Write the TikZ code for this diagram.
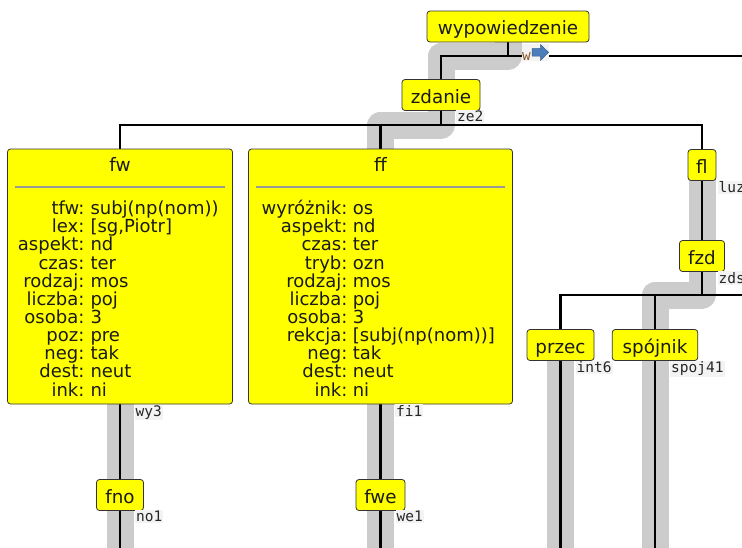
\documentclass[tikz,border=0pt]{standalone}
\usepackage{fontspec}
\setmainfont{DejaVu Sans}
\newfontfamily\labfont{DejaVu Sans Mono}
\usetikzlibrary{calc}
\pgfdeclarelayer{bg}
\pgfdeclarelayer{mid}
\pgfsetlayers{bg,mid,main}
\definecolor{boxyellow}{HTML}{FFFF00}
\definecolor{hl}{HTML}{CCCCCC}
\definecolor{wbrown}{HTML}{8C5A28}
\definecolor{arrowblue}{HTML}{4A7EBB}
\definecolor{arrowedge}{HTML}{2F5A8F}
\definecolor{sepgray}{HTML}{999999}
\definecolor{labbg}{HTML}{F3F3F3}
\definecolor{inktext}{HTML}{1A1A1A}
\begin{document}
\begin{tikzpicture}[x=1pt,y=-1pt,
  cat/.style={draw=black!80, line width=0.8pt, fill=boxyellow, rounded corners=3pt,
    font=\fontsize{18.3}{18}\selectfont, text=inktext, inner xsep=2pt, inner ysep=0pt,
    text height=23.5pt, text depth=7.5pt},
  bigbox/.style={draw=black!80, line width=0.8pt, fill=boxyellow, rounded corners=3pt, inner sep=0pt},
  txt/.style={font=\fontsize{18}{18}\selectfont, text=inktext, inner sep=0pt},
  lab/.style={font=\labfont\fontsize{14.5}{14.5}\selectfont, text=black!85, fill=labbg, inner sep=1pt},
  conn/.style={line width=2.6pt, black},
  hlpath/.style={line width=27pt, hl, line join=round},
  sepline/.style={sepgray, line width=1.5pt}
]
\useasboundingbox (0,0) rectangle (742,547);

% small category nodes
\node[cat, minimum width=162] (wyp) at (508,26.5) {wypowiedzenie};
\node[cat, minimum width=78] (zdanie) at (441,95) {zdanie};
\node[cat, minimum width=28] (fl) at (702,165) {fl};
\node[cat, minimum width=45] (fzd) at (702,256) {fzd};
\node[cat, minimum width=67] (przec) at (560.5,345) {przec};
\node[cat, minimum width=85.5] (spojnik) at (655,345) {spójnik};
\node[cat, minimum width=47] (fno) at (120,495) {fno};
\node[cat, minimum width=49] (fwe) at (380.5,495) {fwe};

% big feature boxes
\node[bigbox, minimum width=225, minimum height=255] (fw) at (120,276.5) {};
\node[bigbox, minimum width=264, minimum height=255] (ff) at (380.5,276.5) {};

\node[txt, font=\fontsize{18.5}{18}\selectfont, anchor=base] (fwt) at ($(fw.north)+(0,23)$) {fw};
\node[txt, font=\fontsize{18.5}{18}\selectfont, anchor=base] (fft) at ($(ff.north)+(0,23)$) {ff};
\draw[sepline] ($(fw.north west)+(8,38.5)$) -- ($(fw.north east)+(-8,38.5)$);
\draw[sepline] ($(ff.north west)+(8,38.5)$) -- ($(ff.north east)+(-8,38.5)$);

\foreach \k/\v [count=\i] in {tfw/subj(np(nom)), lex/{[sg,Piotr]}, aspekt/nd, czas/ter, rodzaj/mos, liczba/poj, osoba/3, poz/pre, neg/tak, dest/neut, ink/ni} {
  \node[txt, anchor=base east] (fwk\i) at ($(fw.north west)+(77.5,{66+18.15*(\i-1)})$) {\k:};
  \node[txt, anchor=base west] (fwv\i) at ($(fw.north west)+(83.2,{66+18.15*(\i-1)})$) {\v};
}
\foreach \k/\v [count=\i] in {wyróżnik/os, aspekt/nd, czas/ter, tryb/ozn, rodzaj/mos, liczba/poj, osoba/3, rekcja/{[subj(np(nom))]}, neg/tak, dest/neut, ink/ni} {
  \node[txt, anchor=base east] (ffk\i) at ($(ff.north west)+(99.5,{66+18.15*(\i-1)})$) {\k:};
  \node[txt, anchor=base west] (ffv\i) at ($(ff.north west)+(104.5,{66+18.15*(\i-1)})$) {\v};
}

% edge labels
\node[lab, anchor=base west] (lze2) at ($(zdanie.south)+(15,11)$) {ze2};
\node[lab, anchor=base west] (lwy3) at ($(fw.south)+(14.5,12)$) {wy3};
\node[lab, anchor=base west] (lfi1) at ($(ff.south)+(14.5,12)$) {fi1};
\node[lab, anchor=base west] (lno1) at ($(fno.south)+(15,10.5)$) {no1};
\node[lab, anchor=base west] (lwe1) at ($(fwe.south)+(15,10.5)$) {we1};
\node[lab, anchor=base west] (lint6) at ($(przec.south)+(15,12)$) {int6};
\node[lab, anchor=base west] (lspoj) at ($(spojnik.south)+(15,12)$) {spoj41};
\node[lab, anchor=base west] (lluz) at ($(fl.south)+(15.5,12)$) {luz};
\node[lab, anchor=base west] (lzds) at ($(fzd.south)+(15.5,11.5)$) {zds};

% "w" label with arrow icon
\node[fill=labbg, inner sep=0pt, minimum width=27, minimum height=17, anchor=north west] (lwbg) at (522,44) {};
\node[font=\labfont\fontsize{14.5}{14.5}\selectfont, text=wbrown, inner sep=0pt, anchor=base west] (lw) at (522,60) {w};
\begin{scope}[shift={(lwbg.north west)}]
  \filldraw[fill=arrowblue, draw=arrowedge, line width=0.5pt, line join=miter]
    (10,4.5) -- (18.5,4.5) -- (18.5,0.5) -- (26.5,8.3) -- (18.5,16.5) -- (18.5,12) -- (10,12) -- cycle;
\end{scope}

\coordinate (top) at (742,56);
\coordinate (h1) at (702,125);
\coordinate (h2) at (742,295);
\coordinate (bot) at (0,560);

\begin{pgfonlayer}{mid}
\draw[conn] (wyp.south) -- (wyp.south |- top);
\draw[conn] (zdanie.north) |- (top);
\draw[conn] (zdanie.south) -- (zdanie.south |- h1);
\draw[conn] (fw.north) |- (h1) -- (fl.north);
\draw[conn] (ff.north) -- (ff.north |- h1);
\draw[conn] (fw.south) -- (fno.north);
\draw[conn] (fno.south) -- (fno.south |- bot);
\draw[conn] (ff.south) -- (fwe.north);
\draw[conn] (fwe.south) -- (fwe.south |- bot);
\draw[conn] (fl.south) -- (fzd.north);
\draw[conn] (fzd.south) -- (fzd.south |- h2);
\draw[conn] (przec.north) |- (h2);
\draw[conn] (spojnik.north) -- (spojnik.north |- h2);
\draw[conn] (przec.south) -- (przec.south |- bot);
\draw[conn] (spojnik.south) -- (spojnik.south |- bot);
\end{pgfonlayer}

\begin{pgfonlayer}{bg}
\draw[hlpath] (wyp.center) -- (wyp.center |- top) -| (zdanie.center) -- (zdanie.center |- h1) -| (ff.center) -- (fwe.center) -- (fwe.center |- bot);
\draw[hlpath] (fw.center) -- (fno.center) -- (fno.center |- bot);
\draw[hlpath] (fl.center) -- (fzd.center) -- (fzd.center |- h2) -| (spojnik.center) -- (spojnik.center |- bot);
\draw[hlpath] (przec.center) -- (przec.center |- bot);
\end{pgfonlayer}
\end{tikzpicture}
\end{document}
